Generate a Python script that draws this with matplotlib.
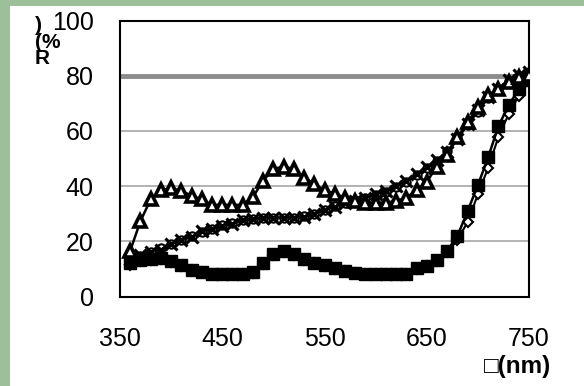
import matplotlib
matplotlib.use("Agg")
import matplotlib.pyplot as plt
from matplotlib.patches import Rectangle

wavelength = [360, 370, 380, 390, 400, 410, 420, 430, 440, 450, 460, 470, 480, 490,
              500, 510, 520, 530, 540, 550, 560, 570, 580, 590, 600, 610, 620, 630,
              640, 650, 660, 670, 680, 690, 700, 710, 720, 730, 740, 750]

triangles = [16.6, 27.3, 35.2, 38.5, 39.2, 38.3, 36.5, 35.2, 33.2, 33.2, 33.2, 33.2, 36.0, 42.0,
             46.2, 47.1, 46.2, 43.1, 40.7, 38.5, 37.3, 35.8, 34.6, 34.0, 34.0, 34.0, 34.6, 35.8,
             38.5, 41.6, 47.1, 51.4, 57.7, 63.2, 68.6, 72.9, 75.3, 77.8, 79.6, 80.2]

crosses = [13.7, 15.0, 16.2, 17.0, 19.1, 20.3, 21.6, 23.7, 24.3, 25.5, 26.4, 27.7, 28.0, 28.6,
           28.6, 28.6, 28.6, 28.8, 29.8, 31.2, 32.6, 34.0, 34.6, 35.6, 37.0, 38.3, 40.1, 41.9,
           44.3, 46.8, 49.5, 52.2, 57.0, 62.6, 67.4, 72.3, 75.3, 78.4, 80.2, 81.4]

circles = [13.0, 14.6, 16.0, 17.4, 19.0, 20.6, 22.0, 23.4, 24.6, 25.8, 26.8, 27.6, 28.2, 28.6,
           28.6, 28.6, 28.6, 29.0, 30.0, 31.4, 32.8, 33.8, 34.8, 35.8, 36.8, 38.0, 39.8, 41.6,
           44.0, 46.4, 49.0, 52.6, 57.4, 62.0, 67.0, 71.8, 75.0, 78.0, 79.8, 80.6]

squares = [12.2, 13.4, 13.7, 14.0, 12.8, 11.3, 9.7, 9.0, 8.1, 8.1, 8.1, 8.1, 8.9, 12.0,
           15.4, 16.6, 15.4, 13.7, 12.2, 11.3, 10.3, 9.4, 8.5, 8.1, 8.1, 8.1, 8.1, 8.1,
           10.3, 11.2, 13.4, 16.6, 21.9, 31.0, 40.3, 50.4, 61.6, 69.3, 75.0, 78.6]

diamonds = [11.5, 12.8, 13.4, 13.6, 12.6, 11.0, 9.5, 8.8, 8.0, 8.0, 8.0, 8.0, 8.6, 11.6,
            15.0, 16.2, 15.2, 13.4, 12.0, 11.0, 10.0, 9.2, 8.4, 8.0, 8.0, 8.0, 8.0, 8.2,
            10.0, 11.0, 13.0, 16.0, 20.5, 27.0, 37.0, 46.6, 57.7, 66.0, 72.7, 78.0]

x_ticks = [350, 450, 550, 650, 750]
y_ticks = [0, 20, 40, 60, 80, 100]

W, H = 584, 386
fig = plt.figure(figsize=(W / 100, H / 100), dpi=100)
fig.patch.set_facecolor("#9dc09b")
bg = Rectangle((10 / W, 0), 1 - 10 / W, 1 - 6 / H, transform=fig.transFigure,
               facecolor="white", edgecolor="none", zorder=-10)
fig.patches.append(bg)

ax = fig.add_axes([120 / W, 1 - 296.5 / H, 409 / W, 276 / H])
ax.set_zorder(5)
ax.set_facecolor("white")
ax.set_xlim(350, 750)
ax.set_ylim(0, 100)

for yv in [20, 40, 60]:
    ax.axhline(yv, color="#a6a6a6", lw=1.2, zorder=1)
ax.axhline(80, color="#8c8c8c", lw=3.5, zorder=1)

ax.plot(wavelength, diamonds, color="black", lw=1.5, marker="D", ms=5,
        mfc="white", mec="black", mew=1.5, zorder=3)
ax.plot(wavelength, squares, color="black", lw=1.8, marker="s", ms=8,
        mfc="black", mec="black", zorder=4)
ax.plot(wavelength, circles, color="black", lw=1.5, marker="o", ms=6,
        mfc="white", mec="black", mew=1.5, zorder=3)
ax.plot(wavelength, crosses, color="black", lw=1.8, marker="x", ms=9,
        mec="black", mew=2.2, zorder=4)
ax.plot(wavelength, triangles, color="black", lw=1.8, marker="^", ms=9,
        mfc="white", mec="black", mew=2.6, zorder=4)

for s in ax.spines.values():
    s.set_color("black")
    s.set_linewidth(1.5)

ax.set_xticks(x_ticks)
ax.set_yticks(y_ticks)
ax.tick_params(axis="both", length=0, labelsize=18, colors="black")
ax.tick_params(axis="x", pad=22)
ax.tick_params(axis="y", pad=19)
for lab in ax.get_xticklabels() + ax.get_yticklabels():
    lab.set_fontfamily(["Liberation Sans", "DejaVu Sans"])

# y-axis label "R(%)" drawn as stacked characters in one text
fam = ["Liberation Sans", "DejaVu Sans"]
fig.text(35 / W, 1 - 42 / H, ")\n(%\nR", fontsize=15, fontweight="bold", family=fam,
         ha="left", va="center", multialignment="left", linespacing=0.85)

fig.text(518 / W, 1 - 367 / H, "\u25a1(nm)", fontsize=17.5, fontweight="bold",
         family=fam, ha="center", va="center")

fig.savefig("out.png", dpi=100, facecolor=fig.get_facecolor())
